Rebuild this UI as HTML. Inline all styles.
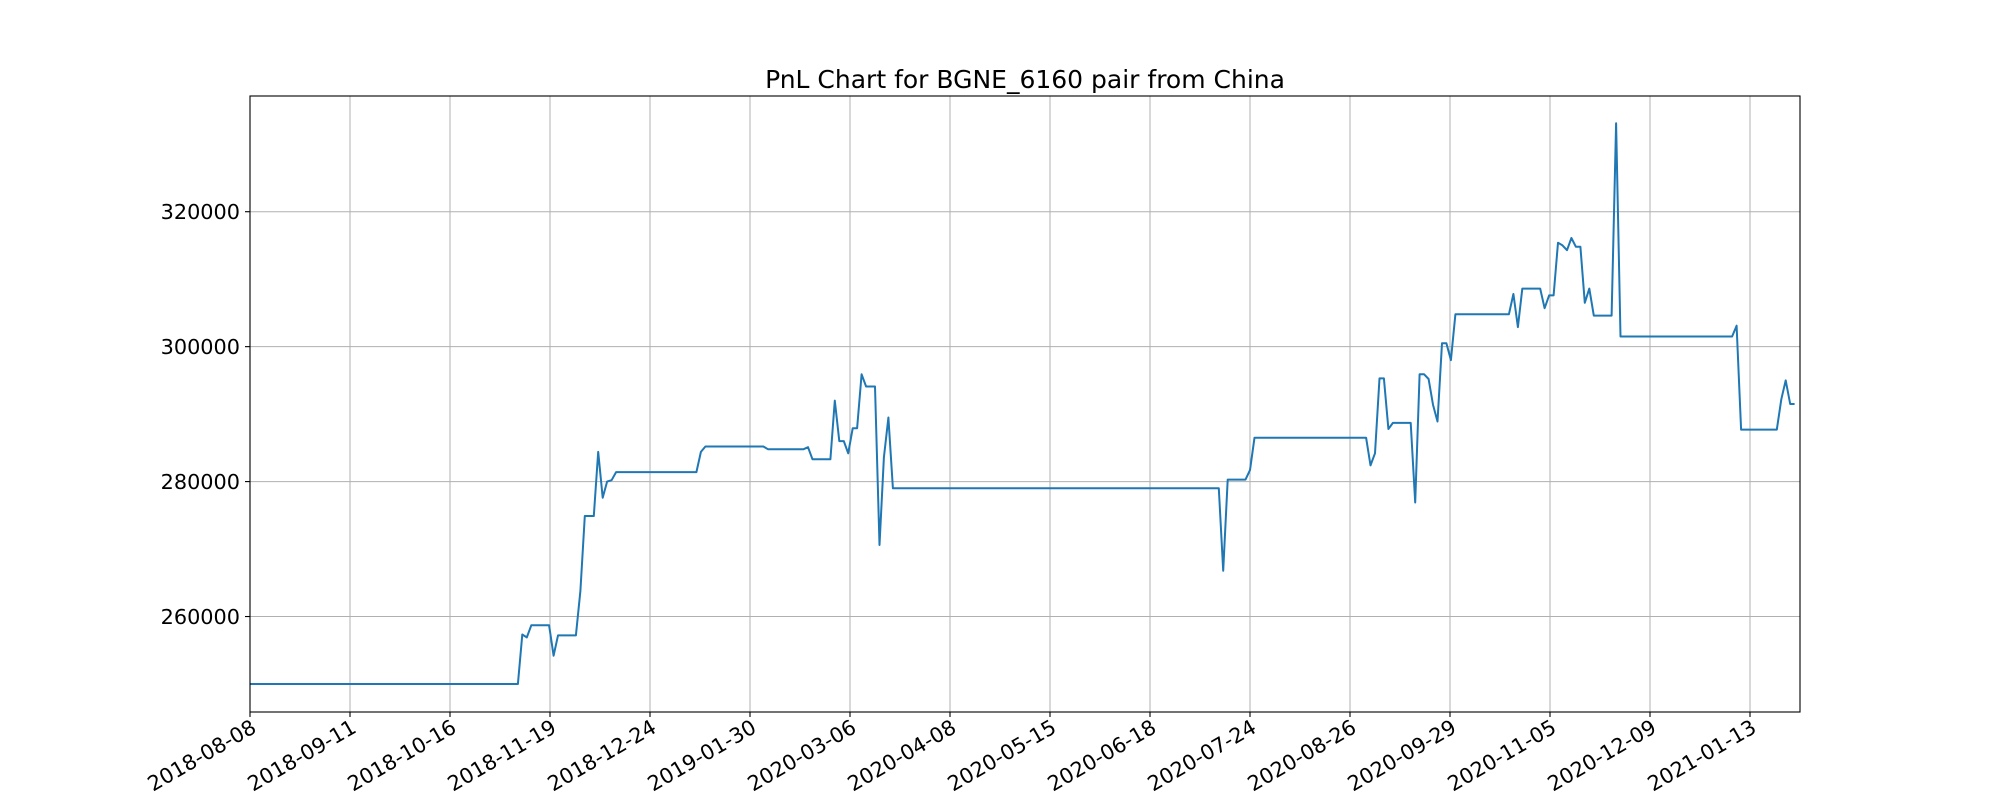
<!DOCTYPE html>
<html><head><meta charset="utf-8">
<style>body{margin:0;background:#fff}svg{display:block;font-family:"DejaVu Sans","Liberation Sans",sans-serif}</style>
</head><body>
<svg id="chart" width="2000" height="800"></svg>
<script>
const xIndex=[0,60,61,62,63,67,68,69,73,74,75,77,78,79,80,81,82,100,101,102,115,116,124,125,126,130,131,132,133,134,135,136,137,138,140,141,142,143,144,217,218,219,223,224,225,250,251,252,253,254,255,256,260,261,262,263,264,265,266,267,268,269,270,282,283,284,285,289,290,291,292,293,294,295,296,297,298,299,300,301,305,306,307,332,333,334,342,343,344,345,346];
const pnlValues=[250000,250000,257340,256900,258700,258700,254200,257200,257200,263800,274900,274900,284400,277600,280000,280200,281400,281400,284400,285200,285200,284800,284800,285100,283300,283300,292000,286000,286000,284200,287900,287900,295900,294100,294100,270600,283600,289500,279000,279000,266800,280300,280300,281700,286500,286500,282400,284200,295300,295300,287800,288700,288700,276900,295900,295900,295200,291400,288900,300500,300500,298000,304800,304800,307800,302900,308600,308600,305700,307600,307600,315400,315000,314300,316100,314800,314800,306500,308600,304600,304600,333100,301500,301500,303100,287700,287700,292200,295000,291500,291500];
const xTickLabels=["2018-08-08","2018-09-11","2018-10-16","2018-11-19","2018-12-24","2019-01-30","2020-03-06","2020-04-08","2020-05-15","2020-06-18","2020-07-24","2020-08-26","2020-09-29","2020-11-05","2020-12-09","2021-01-13"];
const yTicks=[260000,280000,300000,320000];
const tickStep=22.4, xMax=347.2;
const L=250,R=1800,T=96,B=712,yMin=245850,yMax=337150;
const sx=i=>L+(i/xMax)*(R-L);
const sy=v=>B-(v-yMin)/(yMax-yMin)*(B-T);
const NS="http://www.w3.org/2000/svg";
const svg=document.getElementById('chart');
function mk(t,a,p){const e=document.createElementNS(NS,t);for(const k in a)e.setAttribute(k,a[k]);(p||svg).appendChild(e);return e;}
const grid=mk('g',{});


xTickLabels.forEach((lab,k)=>{
  const x=sx(k*tickStep);
  const g=mk('line',{x1:x,x2:x,y1:T,y2:B,stroke:'#b0b0b0','stroke-width':1},grid);
  
  
  mk('line',{x1:x,x2:x,y1:B,y2:B+5,stroke:'#000','stroke-width':1.1});
  const t=mk('text',{x:x+2,y:B+22,'font-size':20.8,'text-anchor':'end',transform:`rotate(-30 ${x} ${B+10})`});
  t.textContent=lab;
  
  
});
yTicks.forEach(v=>{
  const y=sy(v);
  const g=mk('line',{x1:L,x2:R,y1:y,y2:y,stroke:'#b0b0b0','stroke-width':1},grid);
  
  
  mk('line',{x1:L-5,x2:L,y1:y,y2:y,stroke:'#000','stroke-width':1.1});
  const t=mk('text',{x:L-10,y:y+7.5,'font-size':20.8,'text-anchor':'end'});
  t.textContent=String(v);
  
  
});
const d=xIndex.map((i,k)=>(k?'L':'M')+sx(i).toFixed(1)+','+sy(pnlValues[k]).toFixed(1)).join('');
const line=mk('path',{d:d,fill:'none',stroke:'#1f77b4','stroke-width':2,'stroke-linejoin':'round'});


const frame=mk('rect',{x:L,y:T,width:R-L,height:B-T,fill:'none',stroke:'#000','stroke-width':1.1});


const title=mk('text',{x:(L+R)/2,y:88,'font-size':25,'text-anchor':'middle'});
title.textContent='PnL Chart for BGNE_6160 pair from China';


</script>
</body></html>
